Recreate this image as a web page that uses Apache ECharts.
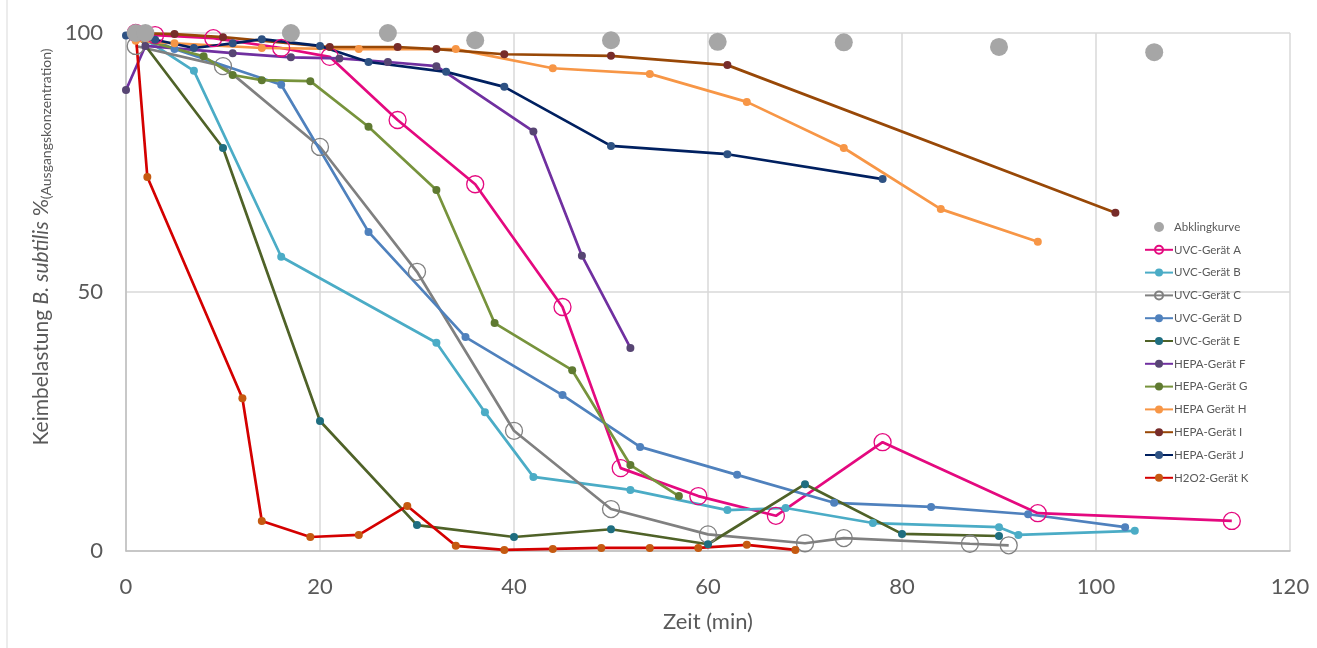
<!DOCTYPE html>
<html>
<head>
<meta charset="utf-8">
<script src="https://cdn.jsdelivr.net/npm/echarts@6/dist/echarts.min.js"></script>
<style>
  html, body { margin: 0; padding: 0; background: #fff; }
  #chart { width: 1317px; height: 648px; }
</style>
</head>
<body>
<div id="chart"></div>
<script>
  // Zeit (min) / Keimbelastung (%) per series
  var abklingX = [1, 2, 17, 27, 36, 50, 61, 74, 90, 106];
  var abklingY = [100, 100, 100, 100, 98.6, 98.6, 98.3, 98.2, 97.3, 96.3];

  var uvcAX = [1, 3, 9, 16, 21, 28, 36, 45, 51, 59, 67, 78, 94, 114];
  var uvcAY = [100, 99.6, 99, 97.1, 95.4, 83.2, 70.8, 47.1, 16, 10.6, 6.8, 21, 7.3, 5.8];

  var uvcBX = [1, 7, 16, 32, 37, 42, 52, 62, 68, 77, 90, 92, 104];
  var uvcBY = [100, 92.7, 56.8, 40.2, 26.8, 14.3, 11.8, 7.9, 8.3, 5.4, 4.6, 3.1, 3.9];

  var uvcCX = [1, 10, 20, 30, 40, 50, 60, 70, 74, 87, 91];
  var uvcCY = [97.5, 93.6, 78, 53.9, 23.2, 8.1, 3.2, 1.5, 2.5, 1.4, 1.1];

  var uvcDX = [1, 5, 16, 25, 35, 45, 53, 63, 73, 83, 93, 103];
  var uvcDY = [100, 96.9, 90, 61.6, 41.3, 30.1, 20.1, 14.7, 9.3, 8.5, 7.1, 4.6];

  var uvcEX = [1, 10, 20, 30, 40, 50, 60, 70, 80, 90];
  var uvcEY = [100, 77.8, 25.1, 5, 2.7, 4.2, 1.3, 12.9, 3.3, 2.9];

  var hepaFX = [0, 2, 11, 17, 22, 27, 32, 42, 47, 52];
  var hepaFY = [89, 97.5, 96.1, 95.3, 95.1, 94.4, 93.6, 81, 57, 39.2];

  var hepaGX = [1, 8, 11, 14, 19, 25, 32, 38, 46, 52, 57];
  var hepaGY = [99, 95.5, 91.9, 90.9, 90.7, 81.9, 69.7, 44, 34.9, 16.6, 10.6];

  var hepaHX = [1, 5, 14, 24, 34, 44, 54, 64, 74, 84, 94];
  var hepaHY = [98.5, 98, 97.1, 96.9, 96.9, 93.2, 92.1, 86.7, 77.8, 66, 59.7];

  var hepaIX = [1, 5, 10, 21, 28, 32, 39, 50, 62, 102];
  var hepaIY = [100, 99.8, 99.2, 97.3, 97.3, 96.9, 95.9, 95.6, 93.8, 65.3];

  var hepaJX = [0, 3, 7, 11, 14, 20, 25, 33, 39, 50, 62, 78];
  var hepaJY = [99.5, 98.7, 97.1, 98, 98.8, 97.5, 94.4, 92.5, 89.6, 78.2, 76.6, 71.8];

  var h2o2KX = [1, 2.2, 12, 14, 19, 24, 29, 34, 39, 44, 49, 54, 59, 64, 69];
  var h2o2KY = [100, 72.2, 29.5, 5.8, 2.7, 3.1, 8.7, 1, 0.2, 0.4, 0.6, 0.6, 0.6, 1.2, 0.2];

  var xTicks = [0, 20, 40, 60, 80, 100, 120];
  var yTicks = [0, 50, 100];

  var textColor = '#595959';
  var fontName = 'Lato';

  function pairs(xs, ys) {
    var out = [];
    for (var i = 0; i < xs.length; i++) {
      out.push([xs[i], ys[i]]);
    }
    return out;
  }

  function lineSeries(name, xs, ys, lineColor, markColor, open) {
    var s = {
      name: name,
      type: 'line',
      data: pairs(xs, ys),
      symbol: 'circle',
      symbolSize: 8,
      lineStyle: { color: lineColor, width: 2.7 },
      itemStyle: { color: markColor },
      emphasis: { disabled: true }
    };
    if (open) {
      s.symbolSize = 17;
      s.itemStyle = { color: 'rgba(255,255,255,0)', borderColor: markColor, borderWidth: 1.3 };
    }
    return s;
  }

  var series = [
    {
      name: 'Abklingkurve',
      type: 'scatter',
      data: pairs(abklingX, abklingY),
      symbolSize: 18,
      itemStyle: { color: '#a6a6a6', opacity: 1 },
      z: 5,
      emphasis: { disabled: true }
    },
    lineSeries('UVC-Gerät A', uvcAX, uvcAY, '#e4097f', '#e4097f', true),
    lineSeries('UVC-Gerät B', uvcBX, uvcBY, '#4bacc6', '#4bacc6'),
    lineSeries('UVC-Gerät C', uvcCX, uvcCY, '#808080', '#808080', true),
    lineSeries('UVC-Gerät D', uvcDX, uvcDY, '#4f81bd', '#4f81bd'),
    lineSeries('UVC-Gerät E', uvcEX, uvcEY, '#4f6228', '#1f6e80'),
    lineSeries('HEPA-Gerät F', hepaFX, hepaFY, '#7030a0', '#574573'),
    lineSeries('HEPA-Gerät G', hepaGX, hepaGY, '#77933c', '#5f7a31'),
    lineSeries('HEPA Gerät H', hepaHX, hepaHY, '#f79646', '#f79646'),
    lineSeries('HEPA-Gerät I', hepaIX, hepaIY, '#984807', '#772c2a'),
    lineSeries('HEPA-Gerät J', hepaJX, hepaJY, '#002060', '#2e5283'),
    lineSeries('H2O2-Gerät K', h2o2KX, h2o2KY, '#d40000', '#c55a11')
  ];

  var legendNames = [];
  for (var i = 0; i < series.length; i++) {
    legendNames.push(series[i].name);
  }

  var option = {
    animation: false,
    backgroundColor: '#fff',
    textStyle: { fontFamily: fontName },
    grid: { left: 126, right: 27, top: 33, bottom: 97, containLabel: false },
    legend: {
      data: legendNames,
      orient: 'vertical',
      left: 1139,
      top: 216,
      itemWidth: 28,
      itemHeight: 10,
      itemGap: 10.8,
      selectedMode: false,
      textStyle: { color: textColor, fontSize: 11.5, fontFamily: fontName, padding: [0, 0, 0, -4] }
    },
    xAxis: {
      type: 'value',
      min: xTicks[0],
      max: xTicks[xTicks.length - 1],
      interval: 20,
      name: 'Zeit (min)',
      nameLocation: 'middle',
      nameGap: 60,
      nameTextStyle: { color: textColor, fontSize: 22, fontFamily: fontName },
      axisLine: { show: true, lineStyle: { color: '#bfbfbf', width: 1.5 } },
      axisTick: { show: false },
      axisLabel: { color: textColor, fontSize: 22, margin: 25, fontFamily: fontName },
      splitLine: { show: true, lineStyle: { color: '#d9d9d9', width: 1.5 } }
    },
    yAxis: {
      type: 'value',
      min: yTicks[0],
      max: yTicks[yTicks.length - 1],
      interval: 50,
      name: 'Keimbelastung {i|B. subtilis} %{sub|(Ausgangskonzentration)}',
      nameLocation: 'middle',
      nameRotate: 90,
      nameGap: 62,
      nameTextStyle: {
        color: textColor,
        fontSize: 21,
        fontFamily: fontName,
        padding: [0, 0, 0, 90],
        rich: {
          i: { fontStyle: 'italic', fontSize: 21, color: textColor, fontFamily: fontName },
          sub: { fontSize: 14, color: textColor, fontFamily: fontName, verticalAlign: 'bottom', padding: [12, 0, 0, 0] }
        }
      },
      axisLine: { show: true, lineStyle: { color: '#bfbfbf', width: 1.5 } },
      axisTick: { show: false },
      axisLabel: { color: textColor, fontSize: 22, margin: 23, fontFamily: fontName },
      splitLine: { show: true, lineStyle: { color: '#d9d9d9', width: 1.5 } }
    },
    graphic: [{
      type: 'line',
      shape: { x1: 7, y1: 0, x2: 7, y2: 648 },
      style: { stroke: '#d9d9d9', lineWidth: 1 }
    }],
    series: series
  };

  var chart = echarts.init(document.getElementById('chart'));
  chart.setOption(option);
</script>
</body>
</html>
